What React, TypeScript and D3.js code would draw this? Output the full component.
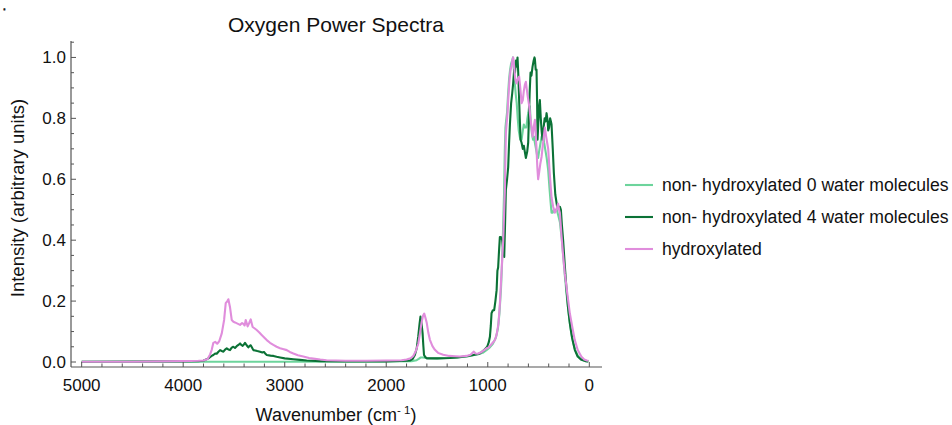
import React from "react";
import * as d3 from "d3";

// ---------- data ----------
const seriesNames = [
  "non- hydroxylated 0 water molecules",
  "non- hydroxylated 4 water molecules",
  "hydroxylated",
];
const seriesColors = ["#6dd49c", "#0b7236", "#e08ddc"];

const water0Wn = [5000, 4000, 3000, 2000, 1750, 1700, 1680, 1660, 1640, 1600, 1500, 1400, 1300, 1200, 1150, 1100, 1050, 1010, 980, 950, 920, 900, 885, 870, 860, 850, 840, 832, 826, 820, 810, 800, 790, 780, 770, 760, 752, 745, 735, 725, 715, 705, 695, 685, 677, 667, 655, 645, 635, 620, 610, 600, 592, 586, 575, 565, 555, 545, 536, 525, 515, 504, 495, 480, 470, 455, 445, 435, 420, 405, 392, 380, 372, 360, 350, 340, 320, 305, 290, 270, 255, 240, 220, 200, 180, 160, 140, 115, 90, 60, 30, 10];
const water0I = [0.001, 0.001, 0.001, 0.002, 0.003, 0.006, 0.010, 0.015, 0.015, 0.013, 0.012, 0.013, 0.015, 0.018, 0.022, 0.025, 0.030, 0.040, 0.048, 0.060, 0.080, 0.11, 0.16, 0.24, 0.32, 0.43, 0.55, 0.70, 0.77, 0.79, 0.82, 0.88, 0.93, 0.96, 0.98, 0.99, 1.0, 0.97, 0.92, 0.88, 0.85, 0.80, 0.76, 0.74, 0.73, 0.73, 0.76, 0.78, 0.77, 0.77, 0.80, 0.82, 0.84, 0.84, 0.78, 0.75, 0.73, 0.74, 0.72, 0.70, 0.68, 0.67, 0.69, 0.72, 0.74, 0.75, 0.72, 0.70, 0.67, 0.63, 0.57, 0.52, 0.49, 0.49, 0.50, 0.50, 0.50, 0.48, 0.46, 0.40, 0.34, 0.28, 0.21, 0.15, 0.10, 0.065, 0.04, 0.022, 0.012, 0.006, 0.003, 0.002];

const water4Wn = [5000, 4000, 3850, 3801, 3752, 3720, 3703, 3685, 3670, 3655, 3637, 3620, 3604, 3590, 3571, 3555, 3539, 3522, 3506, 3490, 3473, 3456, 3440, 3427, 3414, 3400, 3391, 3375, 3358, 3345, 3335, 3320, 3309, 3290, 3270, 3243, 3220, 3204, 3190, 3177, 3140, 3111, 3080, 3046, 3000, 2915, 2850, 2784, 2650, 2400, 2000, 1800, 1766, 1740, 1718, 1700, 1685, 1672, 1663, 1652, 1642, 1635, 1628, 1615, 1602, 1500, 1373, 1300, 1209, 1150, 1078, 1040, 1006, 990, 979, 970, 963, 950, 937, 925, 913, 905, 898, 890, 881, 870, 858, 848, 838, 830, 822, 810, 799, 790, 782, 770, 760, 750, 740, 732, 723, 715, 707, 700, 694, 685, 677, 667, 655, 645, 635, 625, 612, 602, 595, 588, 579, 570, 559, 548, 540, 536, 528, 520, 514, 510, 500, 494, 487, 478, 470, 461, 450, 440, 430, 421, 410, 405, 396, 386, 378, 372, 360, 349, 335, 317, 300, 290, 280, 270, 258, 240, 224, 210, 192, 170, 143, 115, 77, 40, 10];
const water4I = [0.001, 0.002, 0.003, 0.004, 0.012, 0.020, 0.023, 0.028, 0.027, 0.033, 0.039, 0.036, 0.034, 0.040, 0.045, 0.041, 0.039, 0.047, 0.050, 0.046, 0.052, 0.056, 0.061, 0.056, 0.053, 0.058, 0.063, 0.055, 0.048, 0.053, 0.055, 0.046, 0.039, 0.038, 0.036, 0.034, 0.031, 0.033, 0.027, 0.023, 0.021, 0.020, 0.017, 0.015, 0.012, 0.009, 0.007, 0.005, 0.003, 0.002, 0.002, 0.004, 0.005, 0.010, 0.023, 0.045, 0.083, 0.125, 0.149, 0.125, 0.094, 0.055, 0.023, 0.016, 0.012, 0.012, 0.013, 0.015, 0.019, 0.022, 0.028, 0.038, 0.050, 0.065, 0.083, 0.12, 0.16, 0.17, 0.17, 0.20, 0.236, 0.30, 0.31, 0.36, 0.41, 0.41, 0.40, 0.37, 0.345, 0.45, 0.565, 0.60, 0.64, 0.72, 0.78, 0.85, 0.88, 0.915, 0.96, 0.95, 0.99, 0.97, 1.0, 0.95, 0.89, 0.80, 0.73, 0.72, 0.70, 0.71, 0.69, 0.67, 0.69, 0.72, 0.80, 0.88, 0.95, 0.94, 0.97, 0.99, 1.0, 0.995, 0.96, 0.96, 0.85, 0.73, 0.80, 0.84, 0.86, 0.80, 0.76, 0.73, 0.77, 0.80, 0.79, 0.817, 0.79, 0.76, 0.77, 0.80, 0.79, 0.78, 0.70, 0.62, 0.55, 0.51, 0.51, 0.51, 0.50, 0.45, 0.40, 0.31, 0.236, 0.18, 0.128, 0.08, 0.04, 0.018, 0.007, 0.003, 0.002];

const hydroxWn = [5000, 4500, 4200, 4000, 3850, 3800, 3760, 3735, 3719, 3703, 3685, 3665, 3645, 3620, 3597, 3581, 3565, 3555, 3539, 3522, 3505, 3490, 3465, 3440, 3420, 3408, 3395, 3384, 3372, 3365, 3350, 3335, 3316, 3295, 3276, 3250, 3227, 3200, 3177, 3145, 3112, 3080, 3046, 3010, 2980, 2950, 2915, 2870, 2817, 2760, 2719, 2650, 2588, 2400, 2200, 2000, 1850, 1799, 1760, 1734, 1710, 1685, 1665, 1652, 1638, 1626, 1614, 1602, 1585, 1570, 1545, 1521, 1490, 1439, 1380, 1320, 1275, 1209, 1170, 1137, 1120, 1100, 1060, 1012, 996, 960, 930, 913, 895, 881, 870, 864, 848, 840, 832, 826, 822, 815, 805, 799, 785, 775, 766, 758, 750, 740, 730, 717, 705, 691, 680, 667, 655, 645, 635, 625, 610, 592, 580, 569, 559, 548, 536, 528, 520, 512, 504, 495, 483, 470, 455, 438, 425, 415, 405, 390, 372, 356, 340, 325, 307, 298, 290, 275, 258, 241, 215, 192, 165, 143, 115, 90, 77, 50, 25, 10];
const hydroxI = [0.001, 0.001, 0.002, 0.003, 0.004, 0.005, 0.010, 0.025, 0.040, 0.063, 0.066, 0.060, 0.068, 0.094, 0.138, 0.193, 0.200, 0.206, 0.180, 0.138, 0.132, 0.130, 0.126, 0.122, 0.128, 0.125, 0.120, 0.138, 0.125, 0.117, 0.128, 0.140, 0.115, 0.110, 0.105, 0.097, 0.089, 0.080, 0.072, 0.063, 0.056, 0.050, 0.045, 0.042, 0.039, 0.033, 0.028, 0.022, 0.018, 0.013, 0.011, 0.008, 0.006, 0.004, 0.004, 0.005, 0.006, 0.008, 0.012, 0.020, 0.035, 0.060, 0.100, 0.130, 0.152, 0.159, 0.145, 0.130, 0.095, 0.073, 0.052, 0.040, 0.030, 0.024, 0.020, 0.019, 0.018, 0.020, 0.024, 0.034, 0.028, 0.027, 0.033, 0.045, 0.047, 0.060, 0.072, 0.090, 0.125, 0.19, 0.26, 0.30, 0.40, 0.48, 0.56, 0.68, 0.75, 0.78, 0.82, 0.86, 0.93, 0.96, 0.97, 0.99, 1.0, 0.97, 0.93, 0.915, 0.93, 0.937, 0.90, 0.85, 0.86, 0.89, 0.91, 0.92, 0.88, 0.84, 0.80, 0.77, 0.74, 0.77, 0.795, 0.75, 0.70, 0.64, 0.60, 0.62, 0.65, 0.674, 0.72, 0.77, 0.74, 0.72, 0.70, 0.62, 0.54, 0.51, 0.49, 0.50, 0.52, 0.50, 0.49, 0.42, 0.35, 0.29, 0.22, 0.16, 0.11, 0.072, 0.040, 0.025, 0.017, 0.008, 0.005, 0.004];

const xTickValues = [5000, 4000, 3000, 2000, 1000, 0];
const yTickValues = [0.0, 0.2, 0.4, 0.6, 0.8, 1.0];

const titleText = "Oxygen Power Spectra";
const yLabelText = "Intensity (arbitrary units)";

// ---------- layout ----------
const W = 952;
const H = 425;
const FONT = "'Liberation Sans', Arial, sans-serif";
const AXIS = "#555";

export default function App() {
  const x = d3.scaleLinear().domain([5105, -125]).range([71, 602]);
  const y = d3.scaleLinear().domain([-0.0164, 1.054]).range([367, 41]);

  const wnSets = [water0Wn, water4Wn, hydroxWn];
  const iSets = [water0I, water4I, hydroxI];

  const line = d3
    .line<[number, number]>()
    .x((d) => x(d[0]))
    .y((d) => y(d[1]));

  const xMinor = d3.range(5000, -1, -200);
  const yMinor = d3.range(0, 22).map((i) => i * 0.05);

  const x0 = x.range()[0];
  const x1 = x.range()[1];
  const yBottom = y.range()[0];
  const yTop = y.range()[1];

  return (
    <svg
      width={W}
      height={H}
      style={{ position: "absolute", left: 0, top: 0, background: "#fff" }}
      fontFamily={FONT}
    >
      <text x={3} y={10} fontSize={10} fill="#222" stroke="#222" strokeWidth={0.9}>.</text>
      <text x={336} y={32} fontSize={21} textAnchor="middle" fill="#111">
        {titleText}
      </text>

      {/* series */}
      {wnSets.map((wn, s) => {
        const pts: [number, number][] = wn.map((w, i) => [w, iSets[s][i]]);
        return (
          <path
            key={s}
            d={line(pts) || ""}
            fill="none"
            stroke={seriesColors[s]}
            strokeWidth={2.1}
            strokeLinejoin="round"
          />
        );
      })}

      {/* axes */}
      <line x1={x0} x2={x1} y1={yBottom} y2={yBottom} stroke={AXIS} strokeWidth={1.2} />
      <line x1={x0} x2={x0} y1={yBottom} y2={yTop} stroke={AXIS} strokeWidth={1.2} />

      {xMinor.map((v) => {
        const major = v % 1000 === 0;
        return (
          <line
            key={"xm" + v}
            x1={x(v)}
            x2={x(v)}
            y1={yBottom}
            y2={yBottom - (major ? 5 : 3.5)}
            stroke={AXIS}
            strokeWidth={1}
          />
        );
      })}
      {yMinor.map((v, i) => {
        const major = i % 4 === 0;
        return (
          <line
            key={"ym" + i}
            x1={x0}
            x2={x0 + (major ? 5 : 3)}
            y1={y(v)}
            y2={y(v)}
            stroke={AXIS}
            strokeWidth={1}
          />
        );
      })}

      {xTickValues.map((v) => (
        <text key={"xt" + v} x={x(v)} y={391} fontSize={17} textAnchor="middle" fill="#111">
          {v}
        </text>
      ))}
      {yTickValues.map((v) => (
        <text
          key={"yt" + v}
          x={66}
          y={y(v)}
          dy="0.35em"
          fontSize={17}
          textAnchor="end"
          fill="#111"
        >
          {v.toFixed(1)}
        </text>
      ))}

      {/* axis labels */}
      <text x={336} y={421} fontSize={18} textAnchor="middle" fill="#111">
        Wavenumber (cm
        <tspan dy={-7} fontSize={11.5}>-</tspan>
        <tspan fontSize={11.5}> 1</tspan>
        <tspan dy={7}>)</tspan>
      </text>
      <text
        transform={`translate(24, 198) rotate(-90)`}
        fontSize={18.5}
        textAnchor="middle"
        fill="#111"
      >
        {yLabelText}
      </text>

      {/* legend */}
      {seriesNames.map((name, i) => {
        const ly = 185 + i * 32;
        return (
          <g key={name}>
            <line x1={625} x2={653} y1={ly} y2={ly} stroke={seriesColors[i]} strokeWidth={2.1} />
            <text x={662} y={ly} dy="0.35em" fontSize={17.6} fill="#111">
              {name}
            </text>
          </g>
        );
      })}
    </svg>
  );
}
